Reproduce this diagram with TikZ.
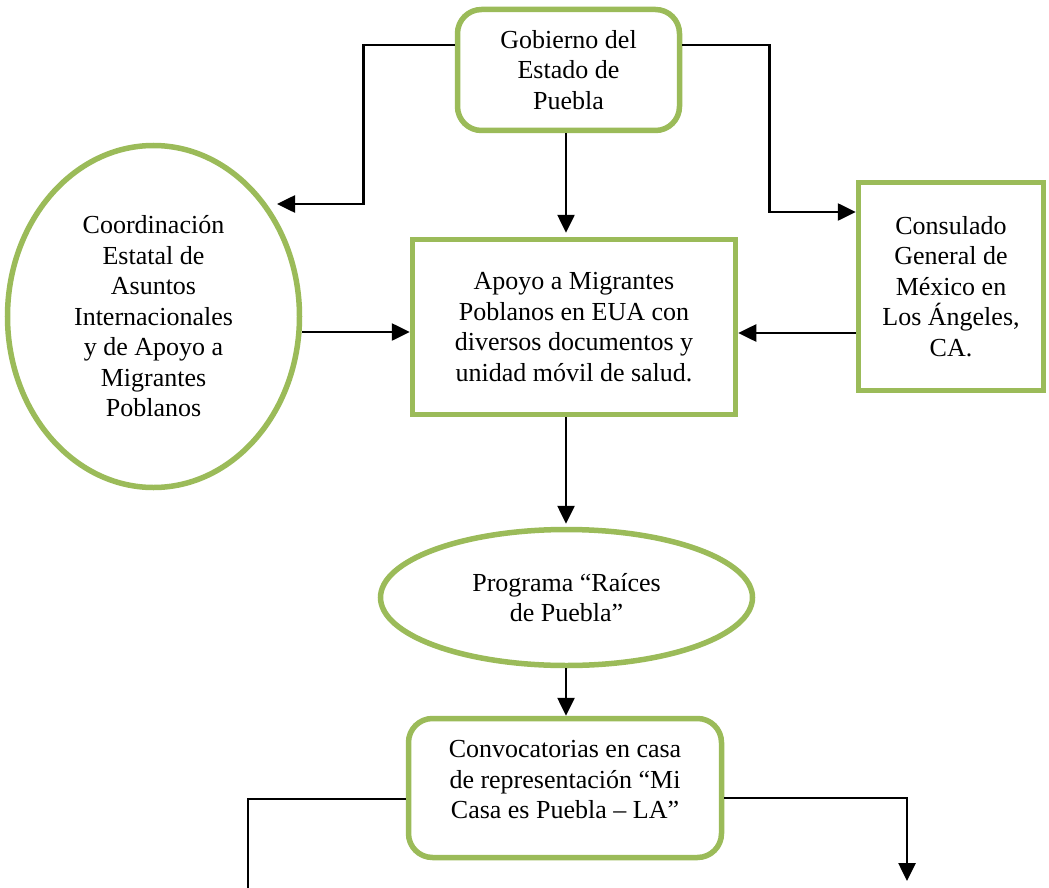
\documentclass[tikz,border=0pt]{standalone}
\usepackage{fontspec}
\setmainfont{Liberation Serif}
\usetikzlibrary{arrows.meta,shapes.geometric}
\definecolor{ogreen}{HTML}{9BBB59}
\tikzset{
  box/.style={draw=ogreen,line width=5.5pt,inner sep=0pt,align=center,fill=white},
  rbox/.style={box,rounded corners=24pt},
  ebox/.style={box,ellipse},
  txt/.style={inner sep=0pt,align=center},
  arr/.style={line width=2.6pt,-{Triangle[length=18pt,width=17pt]}},
  ln/.style={line width=2.6pt},
}
\begin{document}
\begin{tikzpicture}[x=1pt,y=-1pt,font=\fontsize{26}{30.5}\selectfont]
\useasboundingbox (0,0) rectangle (1049,888);
% nodes
\node[rbox,minimum width=222pt,minimum height=121pt] (gob) at (568.5,70) {Gobierno del\\Estado de\\Puebla};
\node[ebox,minimum width=292pt,minimum height=342pt] (coord) at (153.5,316.5) {Coordinación\\Estatal de\\Asuntos\\Internacionales\\y de Apoyo a\\Migrantes\\Poblanos};
\node[box,minimum width=323pt,minimum height=175pt] (apoyo) at (574,327) {Apoyo a Migrantes\\Poblanos en EUA con\\diversos documentos y\\unidad móvil de salud.};
\node[box,minimum width=185pt,minimum height=208pt] (cons) at (951,286.5) {Consulado\\General de\\México en\\Los Ángeles,\\CA.};
\node[ebox,minimum width=372pt,minimum height=136pt] (prog) at (566.5,597.5) {Programa “Raíces\\de Puebla”};
\node[rbox,minimum width=313pt,minimum height=139pt] (conv) at (565,788) {};
\node[txt] (convtxt) at (565,780) {Convocatorias en casa\\de representación “Mi\\Casa es Puebla – LA”};
% free ends
\coordinate (ctip) at (277,204);
\coordinate (lfree) at (248,892);
\coordinate (rfree) at (907,881);
% connectors
\draw[arr] ([yshift=25pt]gob.west) -- ++(-91,0) |- (ctip);
\draw[arr] ([yshift=25pt]gob.east) -- ++(87,0) |- ([yshift=74.5pt]cons.west);
\draw[arr] ([xshift=-2.5pt]gob.south) -- ([xshift=-8pt,yshift=4pt]apoyo.north);
\draw[arr] ([yshift=-15.5pt]coord.east) -- ([yshift=-5pt]apoyo.west);
\draw[arr] ([yshift=-46.5pt]cons.west) -- ([yshift=-6pt]apoyo.east);
\draw[arr] ([xshift=-8pt]apoyo.south) -- ([xshift=-0.5pt,yshift=3pt]prog.north);
\draw[arr] ([xshift=-0.5pt]prog.south) -- ([xshift=1pt]conv.north);
\draw[ln] ([yshift=-11pt]conv.west) -| (lfree);
\draw[arr] ([yshift=-10pt]conv.east) -| (rfree);
\end{tikzpicture}
\end{document}
